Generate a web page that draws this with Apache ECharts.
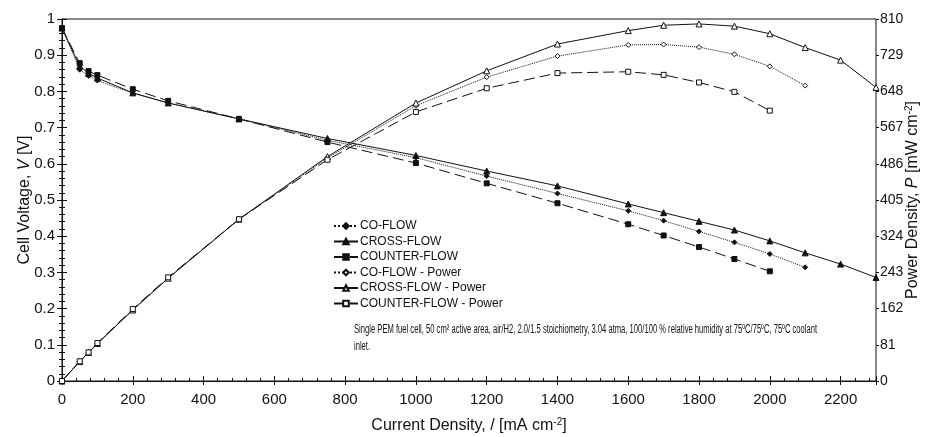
<!DOCTYPE html>
<html><head><meta charset="utf-8">
<script src="https://cdn.jsdelivr.net/npm/echarts@6/dist/echarts.min.js"></script>
<style>html,body{margin:0;padding:0;background:#fff}#c{width:927px;height:437px}</style>
</head><body><div id="c"></div>
<script>
const current = [0, 50, 75, 100, 200, 300, 500, 750, 1000, 1200, 1400, 1600, 1700, 1800, 1900, 2000, 2100, 2200, 2300];
const coFlowV = [0.975, 0.86, 0.843, 0.830, 0.795, 0.768, 0.724, 0.665, 0.617, 0.566, 0.518, 0.470, 0.443, 0.413, 0.383, 0.351, 0.314];
const crossFlowV = [0.975, 0.870, 0.850, 0.837, 0.796, 0.768, 0.724, 0.670, 0.623, 0.580, 0.539, 0.489, 0.465, 0.441, 0.417, 0.387, 0.354, 0.323, 0.286];
const counterFlowV = [0.975, 0.878, 0.856, 0.845, 0.806, 0.774, 0.724, 0.660, 0.602, 0.546, 0.491, 0.433, 0.402, 0.370, 0.337, 0.303];
const coFlowP = [0, 43, 63, 83, 159, 230, 362, 499, 616, 680, 727, 752, 753, 747, 731, 704, 661];
const crossFlowP = [0, 43.5, 64, 84, 159, 230, 362, 502, 622, 694, 754, 784, 796, 799, 794, 777, 746, 718, 657];
const counterFlowP = [0, 44, 64, 85, 161, 232, 362, 495, 602, 655, 689, 692, 685, 668, 647, 605];
const seriesNames = ['CO-FLOW', 'CROSS-FLOW', 'COUNTER-FLOW', 'CO-FLOW - Power', 'CROSS-FLOW - Power', 'COUNTER-FLOW - Power'];
const xTicks = {min: 0, max: 2300, interval: 200};
const vTicks = {min: 0, max: 1, interval: 0.1};
const pTicks = {min: 0, max: 810, interval: 81};

const pair = (ys) => ys.map((y, i) => [current[i], y]);
const FONT = 'Liberation Sans, Arial, sans-serif';
const INK = '#111';
const dash = [11, 5];

function mk(name, ys, yIdx, lineType, symbol, filled) {
  return {
    name, type: 'line', yAxisIndex: yIdx, data: pair(ys),
    symbol, symbolSize: symbol === 'triangle' ? 6 : 5,
    showSymbol: true,
    lineStyle: {color: INK, width: 1, type: lineType},
    itemStyle: {color: filled ? INK : '#fff', borderColor: INK, borderWidth: 1},
    emphasis: {disabled: true}, animation: false, z: 3
  };
}

const chart = echarts.init(document.getElementById('c'), null, {renderer: 'canvas'});
const baseX = {type: 'value', min: xTicks.min, max: xTicks.max, interval: xTicks.interval, splitLine: {show: false}};
const baseV = {type: 'value', min: vTicks.min, max: vTicks.max, interval: vTicks.interval, splitLine: {show: false}};
const baseP = {type: 'value', min: pTicks.min, max: pTicks.max, interval: pTicks.interval, splitLine: {show: false}};
const plain = (v) => String(Math.round(v * 1000) / 1000);

chart.setOption({
  backgroundColor: '#fff',
  animation: false,
  grid: {left: 62, right: 51, top: 19, bottom: 56, containLabel: false, outerBoundsMode: 'none',
         show: true, borderColor: INK, borderWidth: 1, backgroundColor: 'transparent'},
  legend: {
    orient: 'vertical', left: 328, top: 215, itemWidth: 24, itemHeight: 7, itemGap: 3.5,
    data: seriesNames, selectedMode: false,
    textStyle: {fontFamily: FONT, fontSize: 12, color: INK, lineHeight: 12, padding: [0, 0, 0, -3]}
  },
  xAxis: [
    Object.assign({}, baseX, {
      position: 'bottom',
      name: 'Current Density, / [mA cm{sup|-2}]', nameLocation: 'middle', nameGap: 36,
      nameTextStyle: {fontFamily: FONT, fontSize: 16, color: INK, rich: {sup: {fontSize: 10, verticalAlign: 'top', padding: [0, 0, 8, 0], fontFamily: FONT, color: INK}}},
      axisLine: {show: true, lineStyle: {color: INK, width: 1}},
      axisTick: {show: true, inside: true, length: 5, lineStyle: {color: INK}},
      minorTick: {show: true, splitNumber: 5, length: 3, lineStyle: {color: INK}},
      axisLabel: {show: true, fontFamily: FONT, fontSize: 15, color: INK, margin: 11, showMaxLabel: false, formatter: plain}
    }),
    Object.assign({}, baseX, {
      position: 'bottom', axisLine: {show: false},
      axisTick: {show: true, inside: false, length: 4, lineStyle: {color: INK}},
      axisLabel: {show: false}
    })
  ],
  yAxis: [
    Object.assign({}, baseV, {
      position: 'left',
      name: 'Cell Voltage, {it|V} [V]', nameLocation: 'middle', nameGap: 29, nameRotate: 90, nameMoveOverlap: false,
      nameTextStyle: {fontFamily: FONT, fontSize: 16, color: INK, rich: {it: {fontStyle: 'italic', fontSize: 16, fontFamily: FONT, color: INK}}},
      axisLine: {show: true, lineStyle: {color: INK, width: 1}},
      axisTick: {show: true, inside: true, length: 5, lineStyle: {color: INK}},
      minorTick: {show: true, splitNumber: 5, length: 3, lineStyle: {color: INK}},
      axisLabel: {fontFamily: FONT, fontSize: 15, color: INK, margin: 7, formatter: plain}
    }),
    Object.assign({}, baseP, {
      position: 'right',
      name: 'Power Density, {it|P} [mW cm{sup|-2}]', nameLocation: 'middle', nameGap: 28, nameRotate: 90, nameMoveOverlap: false,
      nameTextStyle: {fontFamily: FONT, fontSize: 16, color: INK, rich: {it: {fontStyle: 'italic', fontSize: 16, fontFamily: FONT, color: INK}, sup: {fontSize: 10, verticalAlign: 'top', padding: [0, 0, 8, 0], fontFamily: FONT, color: INK}}},
      axisLine: {show: true, lineStyle: {color: INK, width: 1}},
      axisTick: {show: true, inside: true, length: 5, lineStyle: {color: INK}},
      minorTick: {show: true, splitNumber: 5, length: 3, lineStyle: {color: INK}},
      axisLabel: {fontFamily: FONT, fontSize: 14, color: INK, margin: 4, formatter: plain}
    }),
    Object.assign({}, baseV, {
      position: 'left', axisLine: {show: false},
      axisTick: {show: true, inside: false, length: 4, lineStyle: {color: INK}},
      axisLabel: {show: false}
    }),
    Object.assign({}, baseP, {
      position: 'right', axisLine: {show: false},
      axisTick: {show: true, inside: false, length: 3, lineStyle: {color: INK}},
      axisLabel: {show: false}
    })
  ],
  graphic: [
    {type: 'text', x: 354, y: 321, scaleX: 0.635, style: {
      text: 'Single PEM fuel cell, 50 cm² active area, air/H2, 2.0/1.5 stoichiometry, 3.04 atma, 100/100 % relative humidity at 75ºC/75ºC, 75ºC coolant\ninlet.',
      font: '12px ' + FONT, fill: INK, lineHeight: 17
    }}
  ],
  series: [
    mk(seriesNames[0], coFlowV, 0, 'dotted', 'diamond', true),
    mk(seriesNames[1], crossFlowV, 0, 'solid', 'triangle', true),
    mk(seriesNames[2], counterFlowV, 0, dash, 'rect', true),
    mk(seriesNames[3], coFlowP, 1, 'dotted', 'diamond', false),
    mk(seriesNames[4], crossFlowP, 1, 'solid', 'triangle', false),
    mk(seriesNames[5], counterFlowP, 1, dash, 'rect', false)
  ]
});
</script></body></html>
